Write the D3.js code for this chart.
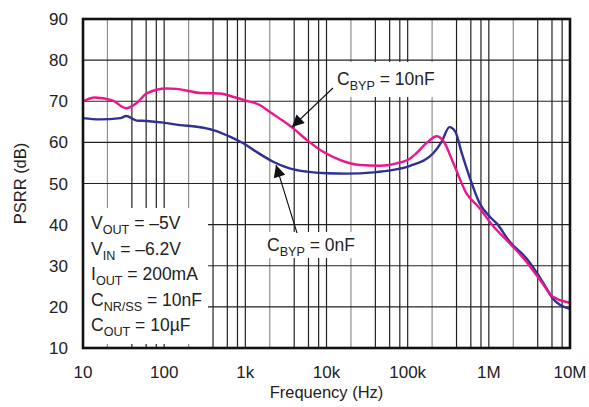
<!DOCTYPE html>
<html>
<head>
<meta charset="utf-8">
<title>PSRR vs Frequency</title>
<script src="https://cdnjs.cloudflare.com/ajax/libs/d3/7.8.5/d3.min.js"></script>
<style>
  body { margin: 0; background: #fff; }
  svg { display: block; font-family: "Liberation Sans", Arial, sans-serif; }
</style>
</head>
<body>
<div id="chart"></div>
<script>
// values
const freqByp10 = [10, 14, 23, 34, 46, 61, 107, 143, 200, 276, 490, 700, 1040, 1500, 1850, 2600, 3900, 5700, 9100, 14800, 26000, 45000, 73000, 107000, 127000, 170000, 228000, 278000, 366000, 530000, 770000, 1100000, 1800000, 2900000, 4600000, 6100000, 10000000];
const psrrByp10 = [70, 70.9, 70.2, 68.3, 69.6, 71.9, 73.1, 73.0, 72.5, 72.0, 71.9, 71.1, 70.1, 69.1, 67.9, 65.9, 63.4, 60.6, 57.7, 55.7, 54.5, 54.3, 54.9, 56.1, 57.3, 59.8, 61.5, 60.2, 54.9, 47.6, 44.0, 39.9, 35.5, 31.0, 25.7, 22.5, 21.0];

const freqByp0 = [10, 16, 29, 34, 46, 61, 98, 156, 252, 403, 645, 860, 1000, 1370, 2200, 3500, 5700, 10000, 17800, 38000, 66000, 107000, 205000, 263000, 327000, 386000, 465000, 595000, 770000, 1030000, 1250000, 1800000, 2900000, 4600000, 6100000, 7500000, 10000000];
const psrrByp0 = [65.9, 65.6, 65.9, 66.4, 65.3, 65.2, 64.8, 64.2, 63.8, 63.0, 61.4, 60.2, 59.5, 57.7, 55.3, 53.7, 52.9, 52.5, 52.4, 52.7, 53.3, 54.3, 57.3, 60.2, 63.7, 62.6, 57.3, 50.9, 45.2, 41.9, 40.3, 35.9, 31.8, 26.1, 22.1, 20.5, 19.5];

const xTickValues = [10, 100, 1e3, 1e4, 1e5, 1e6, 1e7];
const xTickLabels = ["10", "100", "1k", "10k", "100k", "1M", "10M"];
const yTickValues = [10, 20, 30, 40, 50, 60, 70, 80, 90];

// conditions box: [main, subscript, rest]
const conditions = [
  ["V", "OUT", " = \u20135V"],
  ["V", "IN", " = \u20136.2V"],
  ["I", "OUT", " = 200mA"],
  ["C", "NR/SS", " = 10nF"],
  ["C", "OUT", " = 10\u00b5F"]
];

const width = 589, height = 407;
const margin = {left: 83, right: 19, top: 19, bottom: 59};

const svg = d3.select("#chart").append("svg")
  .attr("width", width)
  .attr("height", height);

const x = d3.scaleLog()
  .domain([10, 1e7])
  .range([margin.left, width - margin.right]);

const y = d3.scaleLinear()
  .domain([10, 90])
  .range([height - margin.bottom, margin.top]);

// grid: minor lines at 2,4,6,8 per decade, "2" lines are lighter
const grid = svg.append("g");
const vLines = [];
for (let d = 10; d < 1e7; d *= 10) {
  [2, 4, 6, 8].forEach(m => vLines.push({v: d * m, light: m === 2}));
  if (d > 10) vLines.push({v: d, light: false});
}
grid.selectAll("line.v")
  .data(vLines)
  .join("line")
  .attr("class", "v")
  .attr("x1", d => x(d.v)).attr("x2", d => x(d.v))
  .attr("y1", y(10)).attr("y2", y(90))
  .attr("stroke", d => d.light ? "#8f8f8f" : "#222")
  .attr("stroke-width", 1.2);

grid.selectAll("line.h")
  .data(yTickValues.slice(1, -1))
  .join("line")
  .attr("class", "h")
  .attr("x1", x(10)).attr("x2", x(1e7))
  .attr("y1", d => y(d)).attr("y2", d => y(d))
  .attr("stroke", "#222")
  .attr("stroke-width", 1.2);

// white boxes behind annotations
const boxes = [
  {x: 84, y: 208, w: 124, h: 136},
  {x: 329, y: 62, w: 118, h: 35},
  {x: 262, y: 232, w: 100, h: 26}
];
svg.selectAll("rect.box")
  .data(boxes)
  .join("rect")
  .attr("class", "box")
  .attr("x", d => d.x).attr("y", d => d.y)
  .attr("width", d => d.w).attr("height", d => d.h)
  .attr("fill", "#fff");

// curves
const line = d3.line()
  .x(d => x(d[0]))
  .y(d => y(d[1]))
  .curve(d3.curveMonotoneX);

svg.append("path")
  .datum(d3.zip(freqByp0, psrrByp0))
  .attr("fill", "none")
  .attr("stroke", "#2e3192")
  .attr("stroke-width", 2.4)
  .attr("stroke-linejoin", "round")
  .attr("d", line);

svg.append("path")
  .datum(d3.zip(freqByp10, psrrByp10))
  .attr("fill", "none")
  .attr("stroke", "#ec168c")
  .attr("stroke-width", 2.4)
  .attr("stroke-linejoin", "round")
  .attr("d", line);

// frame
svg.append("rect")
  .attr("x", x(10)).attr("y", y(90))
  .attr("width", x(1e7) - x(10))
  .attr("height", y(10) - y(90))
  .attr("fill", "none")
  .attr("stroke", "#111")
  .attr("stroke-width", 2.6);

// tick labels
svg.append("g")
  .selectAll("text")
  .data(yTickValues)
  .join("text")
  .attr("x", 68)
  .attr("y", d => y(d) + 6)
  .attr("text-anchor", "end")
  .attr("font-size", 17)
  .attr("fill", "#222")
  .text(d => d);

svg.append("g")
  .selectAll("text")
  .data(xTickValues)
  .join("text")
  .attr("x", d => x(d))
  .attr("y", 378)
  .attr("text-anchor", "middle")
  .attr("font-size", 17)
  .attr("fill", "#222")
  .text((d, i) => xTickLabels[i]);

// axis titles
svg.append("text")
  .attr("x", x(1e4))
  .attr("y", 398)
  .attr("text-anchor", "middle")
  .attr("font-size", 16.5)
  .attr("fill", "#222")
  .text("Frequency (Hz)");

svg.append("text")
  .attr("transform", `translate(26,${(y(10) + y(90)) / 2}) rotate(-90)`)
  .attr("text-anchor", "middle")
  .attr("font-size", 16.5)
  .attr("fill", "#222")
  .text("PSRR (dB)");

// text with subscript
function subText(px, py, parts, size) {
  const t = svg.append("text")
    .attr("x", px).attr("y", py)
    .attr("font-size", size)
    .attr("fill", "#222");
  t.append("tspan").text(parts[0]);
  t.append("tspan").attr("dy", 5).attr("font-size", size * 0.72).text(parts[1]);
  t.append("tspan").attr("dy", -5).text(parts[2]);
  return t;
}

conditions.forEach((c, i) => subText(91, 229 + i * 25.5, c, 17.5));

subText(337, 85, ["C", "BYP", " = 10nF"], 17.5);
subText(267, 251, ["C", "BYP", " = 0nF"], 17.5);

// arrows
const defs = svg.append("defs");
defs.append("marker")
  .attr("id", "head")
  .attr("viewBox", "0 0 10 10")
  .attr("refX", 10).attr("refY", 5)
  .attr("markerWidth", 15).attr("markerHeight", 12)
  .attr("markerUnits", "userSpaceOnUse")
  .attr("orient", "auto")
  .append("path")
  .attr("d", "M0,0L10,5L0,10z")
  .attr("fill", "#111");

const arrows = [
  {x1: 333, y1: 88, x2: 292, y2: 127},
  {x1: 297, y1: 233, x2: 276, y2: 165}
];
svg.selectAll("line.arrow")
  .data(arrows)
  .join("line")
  .attr("class", "arrow")
  .attr("x1", d => d.x1).attr("y1", d => d.y1)
  .attr("x2", d => d.x2).attr("y2", d => d.y2)
  .attr("stroke", "#111")
  .attr("stroke-width", 1.1)
  .attr("marker-end", "url(#head)");
</script>
</body>
</html>
